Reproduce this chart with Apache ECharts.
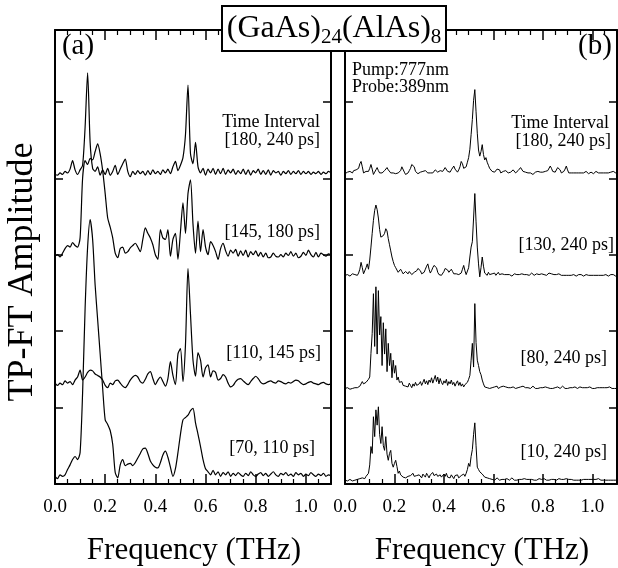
<!DOCTYPE html>
<html>
<head>
<meta charset="utf-8">
<script src="https://cdn.jsdelivr.net/npm/echarts@6/dist/echarts.min.js"></script>
<style>html,body{margin:0;padding:0;background:#fff}#c{width:618px;height:568px}</style>
</head>
<body>
<div id="c"></div>
<script>
// Frequency grids (THz)
const stepA = 0.01;   // panel (a) sampling
const stepB = 0.005;  // panel (b) sampling
const xTicks = ['0.0','0.2','0.4','0.6','0.8','1.0'];

// Vertical offsets (baselines) of each trace, in y-axis units
const offsetsA = [4.07, 3.00, 1.32, 0.10];
const offsetsB = [4.07, 2.73, 1.25, 0.05];
const labelsA = ['[180, 240 ps]', '[145, 180 ps]', '[110, 145 ps]', '[70, 110 ps]'];
const labelsB = ['[180, 240 ps]', '[130, 240 ps]', '[80, 240 ps]', '[10, 240 ps]'];

// Panel (a) amplitudes above baseline, hundredths of a unit, f = 0.00..1.10 step 0.01
const a180 = [-2,-3,0,-2,2,0,5,16,4,-2,
 4,10,60,131,40,6,2,8,-3,4,
 -2,6,-3,2,10,-2,5,12,18,2,
 -5,2,-2,3,-1,2,-3,3,-2,4,
 -1,2,-2,4,0,5,-1,8,15,3,
 10,20,50,115,25,12,40,8,0,6,
 -3,5,0,6,-2,5,-1,6,-2,4,
 0,5,-2,3,-1,5,-2,4,-3,3,
 0,5,-2,3,-2,4,-3,3,0,2,
 -3,2,-1,3,-2,2,-1,3,-2,2,
 -1,2,-2,1,-1,2,-2,1,-1,2,
 0];
const a145 = [-2,0,-3,2,8,12,10,16,12,10,
 22,100,123,118,126,124,135,145,132,110,
 80,48,36,22,2,-4,8,10,2,4,
 9,12,15,10,4,20,35,28,22,13,
 0,-6,33,22,20,33,-2,20,28,-6,
 30,68,28,80,98,40,2,44,4,33,
 10,0,17,12,4,-6,8,15,5,-2,
 6,2,7,-2,5,-1,6,-3,4,0,
 5,-2,3,-3,2,-4,-3,2,-2,-3,
 0,-3,2,-1,4,-2,2,-4,-2,3,
 -1,6,0,-3,3,-3,2,0,-2,1,
 0];
const a110 = [0,-3,0,-2,3,0,2,-2,4,8,
 17,4,8,14,17,16,12,10,8,4,
 -3,-6,0,-2,3,4,0,-4,-6,-2,
 4,8,10,8,2,0,5,12,15,6,
 -2,4,8,2,-4,6,28,10,-2,38,
 45,2,50,150,90,30,9,40,30,8,
 20,24,8,16,14,4,6,11,8,0,
 -5,-3,2,5,6,3,0,-2,2,6,
 9,6,1,-1,0,2,3,1,0,3,
 2,0,-1,1,0,2,4,3,0,-2,
 -1,1,2,0,-1,-2,0,1,-1,-2,
 -1];
const a70 = [0,-3,2,0,2,9,15,22,26,22,
 31,109,220,300,336,310,250,205,160,115,
 74,68,60,42,5,-2,15,22,14,16,
 17,14,18,24,30,36,37,30,20,15,
 12,11,18,28,33,25,12,0,10,31,
 55,74,77,80,86,89,70,55,39,22,
 10,6,2,8,2,6,0,5,2,6,
 0,4,1,5,2,0,4,1,6,2,
 0,3,5,1,4,0,3,6,2,0,
 4,2,5,1,3,0,5,2,4,0,
 3,1,5,2,0,3,1,4,0,2,
 1];

// Panel (b) amplitudes above baseline, hundredths, f = 0.000..1.100 step 0.005
const b180 = [-1,0,1,-1,2,1,0,3,2,4,
 2,6,12,15,8,0,-2,2,4,2,
 6,11,5,-2,1,4,7,3,0,-1,
 0,2,3,5,7,4,2,0,1,0,
 0,-1,-2,0,2,3,8,6,1,-2,
 -2,0,3,6,11,13,8,2,0,-1,
 0,1,3,2,4,3,1,0,2,0,
 -1,0,2,4,3,1,2,3,5,2,
 4,7,5,2,3,1,4,6,9,5,
 3,1,4,8,15,12,6,4,8,14,
 20,31,50,70,95,109,80,52,30,22,
 28,37,24,17,20,14,10,6,4,2,
 0,1,3,5,7,4,0,-1,2,4,
 3,1,0,-1,1,2,4,2,0,1,
 3,5,7,5,2,0,1,-1,0,1,
 0,-1,-2,0,1,0,2,3,1,0,
 1,0,2,1,3,5,9,6,2,0,
 1,3,7,9,4,0,-1,2,5,9,
 4,0,-1,0,1,0,2,0,-1,0,
 1,0,-1,0,1,2,0,-1,0,1,
 0,-1,0,2,1,0,-1,0,1,0,
 -1,0,1,0,-1,1,0,2,1,0,
 0];
const b130 = [0,-1,1,0,-1,1,2,0,1,2,
 0,3,8,17,10,2,4,10,15,8,
 20,37,55,72,85,92,86,75,60,50,
 48,52,55,61,58,48,40,32,24,18,
 13,10,7,4,6,8,5,2,3,5,
 4,2,5,3,1,2,4,2,6,9,
 11,6,2,0,4,8,12,15,8,3,
 6,10,13,15,10,4,1,3,0,2,
 5,9,11,7,4,6,8,5,2,4,
 2,0,1,-1,3,8,13,6,1,0,
 10,24,37,44,75,107,70,37,15,-2,
 10,24,12,3,2,0,4,1,0,2,
 1,3,0,2,4,1,0,2,3,1,
 0,1,3,1,0,-1,1,2,0,1,
 3,1,0,2,4,1,0,1,-1,0,
 1,3,1,0,1,2,0,1,3,2,
 0,1,2,0,1,3,5,2,0,1,
 0,1,0,2,1,0,-1,0,1,0,
 1,0,-1,0,2,1,0,-1,0,1,
 0,1,0,-1,0,1,2,0,1,0,
 -1,0,1,0,1,0,-1,0,1,0,
 0,1,0,-1,0,1,0,1,0,-1,
 0];
const b80 = [0,-2,1,0,-1,1,0,2,1,0,
 1,0,3,5,9,6,4,8,6,12,
 15,46,72,124,55,133,45,128,70,94,
 30,86,45,78,22,59,30,46,14,37,
 20,30,11,15,8,6,9,4,6,3,
 5,2,7,4,1,6,3,8,4,2,
 6,9,4,8,12,6,10,5,11,8,
 14,7,12,17,9,15,6,13,8,5,
 10,7,12,4,9,6,11,5,8,3,
 7,10,4,8,3,6,2,5,4,8,
 12,17,37,59,28,111,60,37,30,22,
 18,11,6,2,4,1,3,0,2,1,
 0,2,1,3,0,1,2,0,3,1,
 2,0,1,3,1,0,2,1,0,2,
 1,0,2,1,3,4,1,0,1,2,
 0,1,3,2,0,1,0,2,1,0,
 1,3,2,0,1,2,0,1,0,2,
 1,0,2,1,0,1,3,1,0,1,
 0,2,1,0,1,0,2,1,0,1,
 2,0,1,0,1,3,1,0,2,1,
 0,1,0,2,1,0,1,0,1,2,
 1,0,1,0,2,1,0,1,0,1,
 0];
const b10 = [0,-2,-1,0,1,0,-1,1,0,2,
 1,0,2,1,3,4,2,5,7,9,
 20,44,35,83,57,92,72,96,60,48,
 70,45,39,57,34,26,35,39,22,17,
 22,26,18,9,12,7,5,4,6,3,
 2,5,3,6,4,9,5,3,6,4,
 7,5,3,8,6,4,9,6,3,7,
 5,10,6,4,8,5,3,7,4,6,
 8,5,9,4,6,3,7,5,2,6,
 4,7,3,5,6,4,8,5,9,14,
 22,18,31,40,60,75,45,17,14,11,
 11,8,6,4,2,3,1,2,0,1,
 2,0,1,3,1,0,2,1,0,1,
 0,2,1,0,1,3,1,0,1,0,
 2,1,0,1,0,2,3,1,0,1,
 0,1,2,0,1,0,1,2,0,1,
 0,2,1,0,1,0,2,1,0,1,
 1,0,1,2,0,1,0,1,0,2,
 0,1,0,1,2,0,1,0,1,0,
 1,0,2,1,0,1,0,1,0,1,
 0,1,0,1,0,2,1,0,1,0,
 1,0,1,0,1,0,1,0,1,0,
 0];

const seriesA = [a180, a145, a110, a70];
const seriesB = [b180, b130, b80, b10];

const SERIF = "'Liberation Serif', 'DejaVu Serif', serif";
const Y_MAX = 5.94;

function toPairs(vals, step, offset) {
  return vals.map((v, i) => [Math.round(i * step * 1000) / 1000, offset + v / 100]);
}

function xAxisCfg(gridIndex, position) {
  const bottom = position === 'bottom';
  return {
    type: 'value', gridIndex, position, min: 0, max: 1.1, interval: 0.2,
    axisLine: { show: true, onZero: false, lineStyle: { color: '#000', width: 2 } },
    axisTick: { show: true, inside: true, length: 10, lineStyle: { color: '#000', width: 1.5 } },
    minorTick: { show: true, splitNumber: 4, length: 5, lineStyle: { color: '#000', width: 1.2 } },
    axisLabel: {
      show: bottom, showMaxLabel: false, margin: 14,
      formatter: v => { const s = v.toFixed(1); return xTicks.indexOf(s) >= 0 ? s : ''; },
      fontSize: 19, fontFamily: SERIF, color: '#000'
    },
    splitLine: { show: false }, minorSplitLine: { show: false }
  };
}
function yAxisCfg(gridIndex, position) {
  return {
    type: 'value', gridIndex, position, min: 0, max: Y_MAX, interval: 1,
    axisLine: { show: true, onZero: false, lineStyle: { color: '#000', width: 2 } },
    axisTick: { show: true, inside: true, length: 8, lineStyle: { color: '#000', width: 1.5 } },
    axisLabel: { show: false },
    splitLine: { show: false }
  };
}

const series = [];
seriesA.forEach((vals, k) => {
  series.push({
    type: 'line', xAxisIndex: 0, yAxisIndex: 0, showSymbol: false, smooth: 0.25,
    data: toPairs(vals, stepA, offsetsA[k]), lineStyle: { color: '#000', width: 1.2 },
    animation: false, silent: true
  });
});
seriesB.forEach((vals, k) => {
  series.push({
    type: 'line', xAxisIndex: 2, yAxisIndex: 2, showSymbol: false, smooth: false,
    data: toPairs(vals, stepB, offsetsB[k]), lineStyle: { color: '#000', width: 1 },
    animation: false, silent: true
  });
});

function txt(text, x, y, size, align) {
  return { type: 'text', x, y, z: 100, silent: true,
    style: { text, fontSize: size, fontFamily: SERIF, fill: '#000', align: align || 'right', verticalAlign: 'middle' } };
}

const graphics = [
  txt('(a)', 78, 46, 29, 'center'),
  txt('(b)', 595, 46, 29, 'center'),
  txt('Time Interval', 320, 122, 18),
  txt(labelsA[0], 320, 140, 18),
  txt(labelsA[1], 320, 232, 18),
  txt(labelsA[2], 321, 353, 18),
  txt(labelsA[3], 315, 448, 18),
  txt('Time Interval', 609, 123, 18),
  txt(labelsB[0], 611, 141, 18),
  txt(labelsB[1], 614, 245, 18),
  txt(labelsB[2], 607, 358, 18),
  txt(labelsB[3], 607, 452, 18),
  txt('Pump:777nm', 352, 70, 18, 'left'),
  txt('Probe:389nm', 352, 87, 18, 'left'),
  txt('Frequency (THz)', 194, 551, 31, 'center'),
  txt('Frequency (THz)', 482, 551, 31, 'center'),
  { type: 'text', x: 23, y: 272, rotation: Math.PI / 2, z: 100, silent: true,
    style: { text: 'TP-FT Amplitude', fontSize: 36, fontFamily: SERIF, fill: '#000', align: 'center', verticalAlign: 'middle' } },
  { type: 'rect', z: 110, silent: true, shape: { x: 222, y: 6, width: 224, height: 45 },
    style: { fill: '#fff', stroke: '#000', lineWidth: 2 } },
  { type: 'text', x: 334, y: 29, z: 120, silent: true,
    style: {
      text: '{a|(GaAs)}{s|24}{a|(AlAs)}{s|8}',
      align: 'center', verticalAlign: 'middle',
      rich: {
        a: { fontSize: 32, fontFamily: SERIF, fill: '#000' },
        s: { fontSize: 21, fontFamily: SERIF, fill: '#000', padding: [16, 0, 0, 0] }
      }
    } }
];

const chart = echarts.init(document.getElementById('c'), null, { renderer: 'canvas' });
chart.setOption({
  backgroundColor: '#fff',
  animation: false,
  grid: [
    { left: 55, right: 287, top: 30, bottom: 84, containLabel: false, outerBoundsMode: 'none' },
    { left: 345, right: 1, top: 30, bottom: 84, containLabel: false, outerBoundsMode: 'none' }
  ],
  xAxis: [xAxisCfg(0, 'bottom'), xAxisCfg(0, 'top'), xAxisCfg(1, 'bottom'), xAxisCfg(1, 'top')],
  yAxis: [yAxisCfg(0, 'left'), yAxisCfg(0, 'right'), yAxisCfg(1, 'left'), yAxisCfg(1, 'right')],
  series,
  graphic: graphics
});
</script>
</body>
</html>
